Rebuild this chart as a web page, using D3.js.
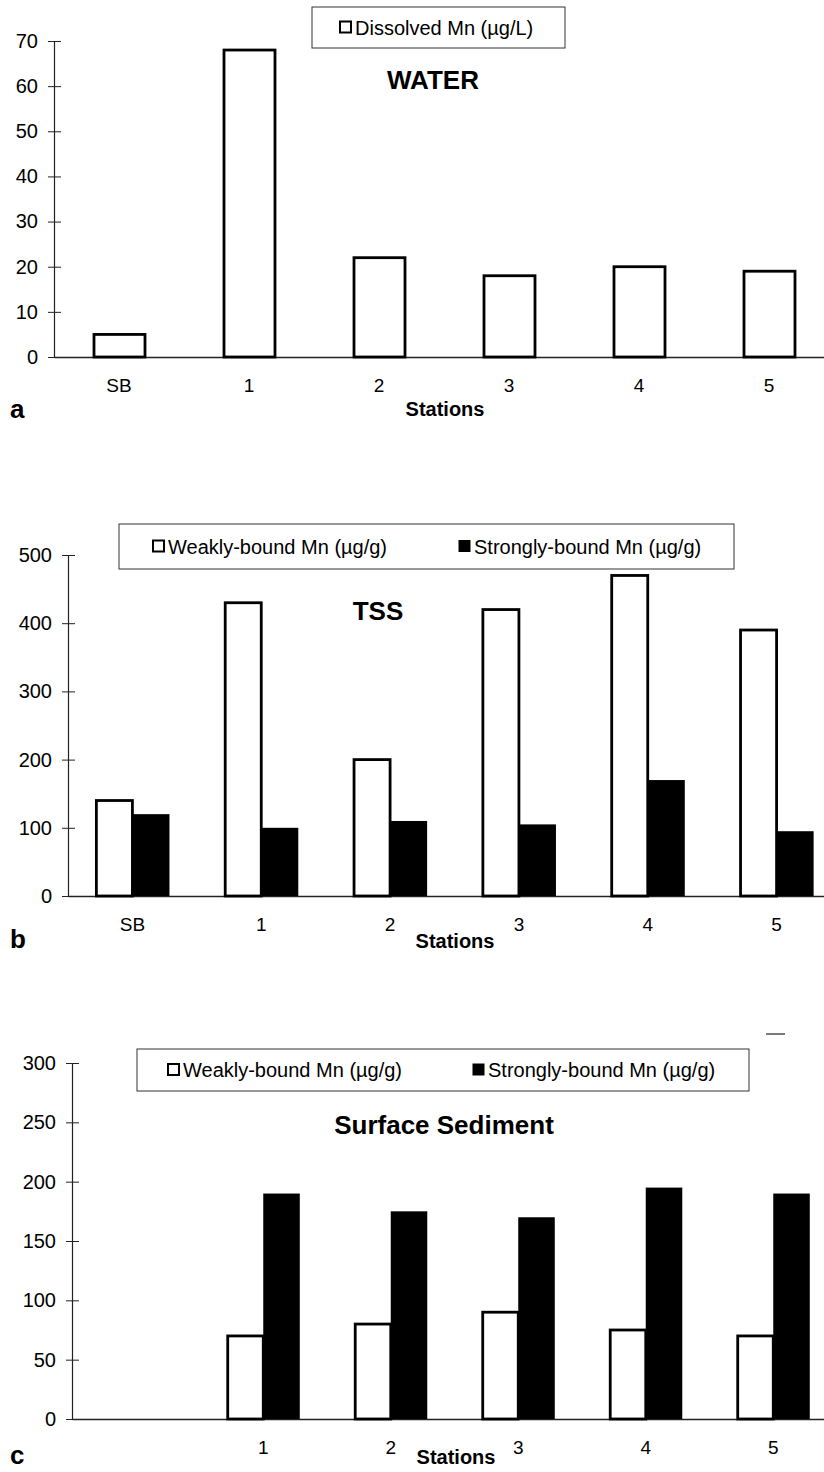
<!DOCTYPE html>
<html>
<head>
<meta charset="utf-8">
<script src="https://cdn.jsdelivr.net/npm/d3@7"></script>
<style>
  html, body { margin: 0; padding: 0; background: #fff; }
  svg { display: block; }
  text { font-family: "Liberation Sans", Arial, sans-serif; fill: #000; }
</style>
</head>
<body>
<svg id="chart" width="824" height="1472"></svg>
<script>
// ---------- DATA ----------
const stations = ["SB", "1", "2", "3", "4", "5"];
const stationLabelsC = ["", "1", "2", "3", "4", "5"];

const dissolvedMn = [5, 68, 22, 18, 20, 19];           // µg/L
const tssWeak = [140, 430, 200, 420, 470, 390];         // µg/g
const tssStrong = [120, 100, 110, 105, 170, 95];        // µg/g
const sedWeak = [null, 70, 80, 90, 75, 70];             // µg/g
const sedStrong = [null, 190, 175, 170, 195, 190];      // µg/g

const yTicksA = [0, 10, 20, 30, 40, 50, 60, 70];
const yTicksB = [0, 100, 200, 300, 400, 500];
const yTicksC = [0, 50, 100, 150, 200, 250, 300];

const legendA = ["Dissolved Mn (µg/L)"];
const legendBC = ["Weakly-bound Mn (µg/g)", "Strongly-bound Mn (µg/g)"];
const titles = ["WATER", "TSS", "Surface Sediment"];
const panelLetters = ["a", "b", "c"];
const xTitle = "Stations";

// ---------- DRAW ----------
const svg = d3.select("#chart");
const AXIS = "#222";

function drawPanel(cfg) {
  const g = svg.append("g");
  const x = d3.scaleBand().domain(stations).range([cfg.x0, cfg.x1]).paddingInner(0).paddingOuter(0);
  const y = d3.scaleLinear().domain([0, cfg.yMax]).range([cfg.y0, cfg.yTop]);

  // y axis with crossing ticks
  const yAxis = d3.axisLeft(y).tickValues(cfg.yTicks).tickSizeInner(6).tickSizeOuter(0).tickPadding(10);
  const ya = g.append("g").attr("transform", `translate(${cfg.x0},0)`).call(yAxis);
  ya.select(".domain").attr("stroke", AXIS).attr("stroke-width", 1.2);
  ya.selectAll(".tick line").attr("stroke", AXIS).attr("x2", -6).attr("x1", 7);
  ya.selectAll(".tick text").attr("font-size", 20).attr("font-family", "Liberation Sans, Arial, sans-serif").attr("fill", "#000");

  // x axis line
  const xAxis = d3.axisBottom(x).tickSize(0).tickPadding(cfg.xLabelPad).tickFormat((d, i) => cfg.xLabels[i]);
  const xa = g.append("g").attr("transform", `translate(0,${cfg.y0})`).call(xAxis);
  xa.select(".domain").attr("stroke", AXIS).attr("stroke-width", 1.4);
  xa.selectAll(".tick text").attr("font-size", 19).attr("font-family", "Liberation Sans, Arial, sans-serif").attr("fill", "#000");

  // bars
  const groupW = x.bandwidth() * cfg.groupFrac;
  const sub = d3.scaleBand().domain(d3.range(cfg.series.length)).range([0, groupW]);
  cfg.series.forEach((vals, si) => {
    g.append("g").selectAll("rect")
      .data(vals.map((v, i) => ({ v, s: stations[i] })).filter(d => d.v != null))
      .join("rect")
      .attr("x", d => x(d.s) + (x.bandwidth() - groupW) / 2 + sub(si) + (si === 0 ? 1 : 0))
      .attr("y", d => y(d.v))
      .attr("width", sub.bandwidth() - (si === 0 ? 1 : 0))
      .attr("height", d => y(0) - y(d.v))
      .attr("fill", si === 0 ? "#fff" : "#000")
      .attr("stroke", "#000")
      .attr("stroke-width", si === 0 ? 2.8 : 0);
  });

  // legend box
  const L = cfg.legend;
  g.append("rect").attr("x", L.x).attr("y", L.y).attr("width", L.w).attr("height", L.h)
    .attr("fill", "#fff").attr("stroke", "#333").attr("stroke-width", 1);
  L.items.forEach((txt, i) => {
    const mx = L.markerX[i];
    const cy = L.y + L.h / 2;
    g.append("rect").attr("x", mx).attr("y", cy - 6).attr("width", 11).attr("height", 11)
      .attr("fill", i === 0 ? "#fff" : "#000").attr("stroke", "#000").attr("stroke-width", i === 0 ? 2 : 1);
    g.append("text").attr("x", mx + 15).attr("y", cy).attr("dominant-baseline", "central")
      .attr("font-size", 20).text(txt);
  });

  // title
  g.append("text").attr("x", cfg.title.x).attr("y", cfg.title.y).attr("text-anchor", "middle")
    .attr("dominant-baseline", "central").attr("font-weight", "bold").attr("font-size", 26).text(cfg.title.text);

  // x title
  g.append("text").attr("x", cfg.xTitle.x).attr("y", cfg.xTitle.y).attr("text-anchor", "middle")
    .attr("dominant-baseline", "central").attr("font-weight", "bold").attr("font-size", 20).text(xTitle);

  // panel letter (baseline placed)
  g.append("text").attr("x", 10).attr("y", cfg.letterY)
    .attr("font-weight", "bold").attr("font-size", 26).text(cfg.letter);
  return g;
}

drawPanel({
  x0: 54, x1: 834, y0: 357, yTop: 41, yMax: 70, yTicks: yTicksA,
  xLabels: stations, xLabelPad: 22, groupFrac: 0.4,
  series: [dissolvedMn],
  legend: { x: 312, y: 7, w: 253, h: 41, items: legendA, markerX: [340] },
  title: { x: 433, y: 80, text: titles[0] },
  xTitle: { x: 445, y: 409 },
  letter: panelLetters[0], letterY: 418
});

drawPanel({
  x0: 68, x1: 841, y0: 896, yTop: 555, yMax: 500, yTicks: yTicksB,
  xLabels: stations, xLabelPad: 22, groupFrac: 0.575,
  series: [tssWeak, tssStrong],
  legend: { x: 119, y: 524, w: 615, h: 45, items: legendBC, markerX: [153, 459] },
  title: { x: 378, y: 611, text: titles[1] },
  xTitle: { x: 455, y: 941 },
  letter: panelLetters[1], letterY: 948
});

const gc = drawPanel({
  x0: 72, x1: 837, y0: 1419, yTop: 1063, yMax: 300, yTicks: yTicksC,
  xLabels: stationLabelsC, xLabelPad: 22, groupFrac: 0.573,
  series: [sedWeak, sedStrong],
  legend: { x: 137, y: 1049, w: 612, h: 42, items: legendBC, markerX: [168, 473] },
  title: { x: 444, y: 1125, text: titles[2] },
  xTitle: { x: 456, y: 1457 },
  letter: panelLetters[2], letterY: 1464
});
// small stray dash in the top-right of panel c
gc.append("line").attr("x1", 766).attr("x2", 785).attr("y1", 1034).attr("y2", 1034)
  .attr("stroke", "#222").attr("stroke-width", 1.2);
</script>
</body>
</html>
